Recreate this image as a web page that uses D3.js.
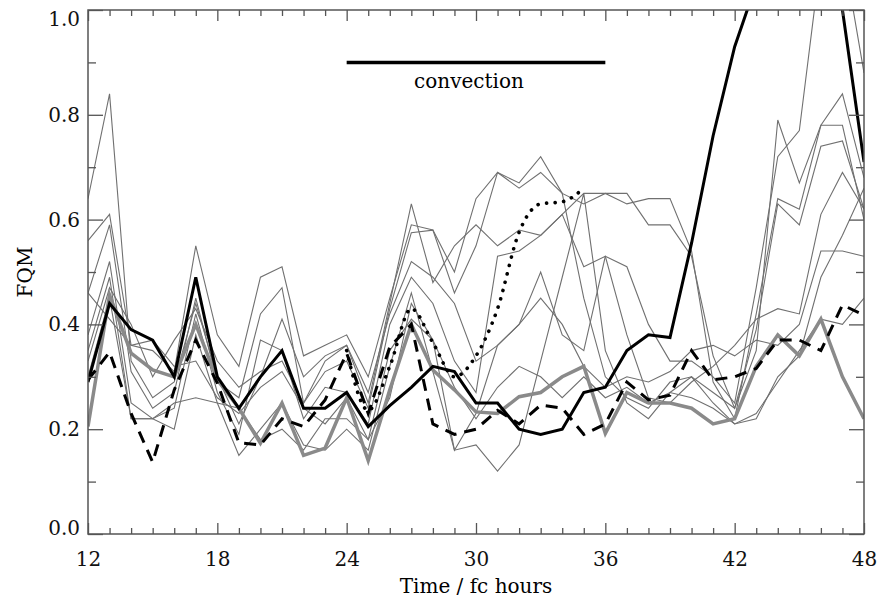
<!DOCTYPE html>
<html>
<head>
<meta charset="utf-8">
<script src="https://cdn.jsdelivr.net/npm/d3@7"></script>
<style>
  body { margin: 0; background: #fff; }
  text { font-family: "DejaVu Serif", serif; }
</style>
</head>
<body>
<div id="drawing"></div>
<script>
// forecast hours
var hours = [12,13,14,15,16,17,18,19,20,21,22,23,24,25,26,27,28,29,30,31,32,33,34,35,36,37,38,39,40,41,42,43,44,45,46,47,48];
var xMajor = [12,18,24,30,36,42,48];
var yMajor = [0.0,0.2,0.4,0.6,0.8,1.0];
var yMinor = [0.1,0.3,0.5,0.7,0.9];

// thin grey members
var member1 = [0.64,0.84,0.33,0.26,0.29,0.44,0.30,0.21,0.30,0.41,0.30,0.34,0.36,0.25,0.44,0.63,0.48,0.55,0.59,0.55,0.58,0.57,0.61,0.65,0.65,0.65,0.59,0.59,0.53,0.34,0.24,0.35,0.79,0.67,0.78,0.84,0.68];
var member2 = [0.56,0.61,0.36,0.35,0.31,0.55,0.38,0.32,0.49,0.51,0.34,0.36,0.38,0.30,0.45,0.59,0.58,0.50,0.64,0.69,0.67,0.72,0.65,0.63,0.65,0.63,0.64,0.64,0.54,0.29,0.22,0.42,0.64,0.62,0.78,0.78,0.60];
var member3 = [0.46,0.59,0.31,0.24,0.27,0.45,0.29,0.26,0.42,0.47,0.25,0.31,0.33,0.24,0.43,0.575,0.58,0.46,0.55,0.69,0.66,0.69,0.65,0.45,0.30,0.26,0.24,0.29,0.30,0.27,0.24,0.39,0.63,0.59,0.74,0.75,0.62];
var member4 = [0.38,0.52,0.25,0.22,0.24,0.42,0.27,0.19,0.37,0.35,0.22,0.28,0.27,0.21,0.40,0.49,0.44,0.33,0.27,0.53,0.54,0.57,0.61,0.51,0.53,0.38,0.26,0.25,0.29,0.32,0.36,0.41,0.43,0.42,0.61,0.69,0.62];
var member5 = [0.35,0.49,0.22,0.22,0.20,0.38,0.25,0.15,0.20,0.25,0.17,0.16,0.20,0.16,0.32,0.46,0.31,0.16,0.17,0.12,0.17,0.33,0.49,0.65,0.35,0.25,0.22,0.27,0.30,0.25,0.21,0.22,0.30,0.34,0.49,0.57,0.66];
var member6 = [0.33,0.47,0.40,0.30,0.37,0.43,0.33,0.28,0.31,0.33,0.25,0.33,0.36,0.27,0.42,0.52,0.49,0.44,0.33,0.36,0.40,0.50,0.38,0.35,0.53,0.51,0.40,0.33,0.33,0.30,0.25,0.47,0.72,0.77,1.10,1.12,0.88];
var member7 = [0.46,0.41,0.36,0.37,0.32,0.33,0.26,0.23,0.28,0.31,0.24,0.21,0.26,0.18,0.35,0.41,0.37,0.16,0.23,0.36,0.40,0.45,0.40,0.32,0.28,0.30,0.29,0.31,0.35,0.36,0.34,0.37,0.36,0.40,0.54,0.54,0.53];
var member8 = [0.30,0.45,0.22,0.22,0.25,0.26,0.25,0.24,0.18,0.20,0.16,0.22,0.22,0.18,0.26,0.44,0.37,0.28,0.22,0.28,0.32,0.30,0.26,0.30,0.26,0.28,0.25,0.27,0.26,0.24,0.21,0.23,0.29,0.35,0.41,0.40,0.45];

// highlighted runs
var thickGrey  = [0.205,0.456,0.345,0.313,0.30,0.40,0.294,0.24,0.173,0.25,0.15,0.164,0.26,0.14,0.275,0.40,0.313,0.275,0.233,0.23,0.262,0.27,0.30,0.32,0.192,0.27,0.25,0.25,0.24,0.21,0.22,0.32,0.38,0.34,0.41,0.30,0.22];
var dashedRun  = [0.294,0.347,0.23,0.137,0.275,0.37,0.288,0.174,0.17,0.22,0.205,0.256,0.345,0.23,0.357,0.40,0.21,0.19,0.20,0.236,0.21,0.246,0.24,0.19,0.21,0.29,0.256,0.265,0.35,0.294,0.30,0.316,0.37,0.37,0.35,0.437,0.418];
var blackRun   = [0.29,0.44,0.39,0.37,0.30,0.49,0.30,0.24,0.30,0.35,0.24,0.24,0.27,0.205,0.245,0.28,0.32,0.31,0.25,0.25,0.20,0.19,0.20,0.27,0.28,0.35,0.38,0.375,0.555,0.76,0.93,1.05,1.2,1.3,1.2,1.0,0.71];
var dottedHours = [24,25,26,27,28,29,30,31,32,33,34,35];
var dottedRun   = [0.35,0.236,0.32,0.43,0.365,0.30,0.34,0.43,0.576,0.63,0.634,0.66];

// convection period
var convection = [24, 36];
var convectionLevel = 0.9;

var width = 878;
var height = 599;
var margin = {top: 10, right: 14, bottom: 65, left: 88};
var plotW = width - margin.left - margin.right;
var plotH = height - margin.top - margin.bottom;
var axisColor = "#555";

var drawing = d3.select("#drawing").append("svg")
  .attr("width", width)
  .attr("height", height)
  .style("background", "#fff");

var area = drawing.append("g")
  .attr("transform", `translate(${margin.left}, ${margin.top})`);

var xScale = d3.scaleLinear().domain([12, 48]).range([0, plotW]);
var yScale = d3.scaleLinear().domain([0, 1]).range([plotH, 0]);

area.append("clipPath").attr("id", "clip")
  .append("rect").attr("width", plotW).attr("height", plotH);

var lines = area.append("g").attr("clip-path", "url(#clip)");

var line = d3.line()
  .x((d) => xScale(d[0]))
  .y((d) => yScale(d[1]));

function pairs(xs, ys) { return xs.map((x, i) => [x, ys[i]]); }

var members = [member1, member2, member3, member4, member5, member6, member7, member8];
lines.selectAll(".member")
  .data(members)
  .enter().append("path")
    .attr("class", "member")
    .attr("d", (d) => line(pairs(hours, d)))
    .style("fill", "none")
    .style("stroke", "#707070")
    .style("stroke-width", 1.1);

lines.append("path")
  .attr("d", line(pairs(hours, thickGrey)))
  .style("fill", "none").style("stroke", "#8a8a8a").style("stroke-width", 3.5);

lines.append("path")
  .attr("d", line(pairs(hours, dashedRun)))
  .style("fill", "none").style("stroke", "#000").style("stroke-width", 3)
  .style("stroke-dasharray", "12,8");

// dotted run, smoothed a little like the original
var smoothLine = d3.line()
  .x((d) => xScale(d[0]))
  .y((d) => yScale(d[1]))
  .curve(d3.curveMonotoneX);
lines.append("path")
  .attr("d", smoothLine(pairs(dottedHours, dottedRun)))
  .style("fill", "none").style("stroke", "#000").style("stroke-width", 3.6)
  .style("stroke-linecap", "round")
  .style("stroke-dasharray", "0.1,8.5");

lines.append("path")
  .attr("d", line(pairs(hours, blackRun)))
  .style("fill", "none").style("stroke", "#000").style("stroke-width", 3);

// convection bar
area.append("line")
  .attr("x1", xScale(convection[0])).attr("x2", xScale(convection[1]))
  .attr("y1", yScale(convectionLevel)).attr("y2", yScale(convectionLevel))
  .style("stroke", "#000").style("stroke-width", 3.5);
area.append("text")
  .attr("x", xScale(d3.mean(convection)) - 7)
  .attr("y", yScale(convectionLevel) + 26)
  .attr("text-anchor", "middle")
  .style("font-size", "20px")
  .text("convection");

// axes, ticks pointing inward on all four sides
function styleAxis(g) {
  g.select(".domain").remove();
  g.selectAll("line").style("stroke", axisColor).style("stroke-width", 1.3);
  g.selectAll("text").style("font-family", "DejaVu Serif").style("font-size", "20px").style("fill", "#111");
}
var xMinor = hours.filter((h) => xMajor.indexOf(h) < 0);

area.append("g").attr("transform", `translate(0, ${plotH})`)
  .call(d3.axisBottom(xScale).tickValues(xMajor).tickSize(-11).tickPadding(18).tickFormat(d3.format("d"))).call(styleAxis);
area.append("g").attr("transform", `translate(0, ${plotH})`)
  .call(d3.axisBottom(xScale).tickValues(xMinor).tickSize(-6).tickFormat("")).call(styleAxis);
area.append("g")
  .call(d3.axisTop(xScale).tickValues(xMajor).tickSize(-11).tickFormat("")).call(styleAxis);
area.append("g")
  .call(d3.axisTop(xScale).tickValues(xMinor).tickSize(-6).tickFormat("")).call(styleAxis);

var yAxisLeft = area.append("g")
  .call(d3.axisLeft(yScale).tickValues(yMajor).tickSize(-15).tickPadding(8).tickFormat(d3.format(".1f"))).call(styleAxis);
// keep the end labels inside the frame height, as in the original
yAxisLeft.selectAll(".tick text")
  .attr("dy", (d) => d === 1 ? "0.75em" : (d === 0 ? "0em" : "0.32em"));
area.append("g")
  .call(d3.axisLeft(yScale).tickValues(yMinor).tickSize(-8).tickFormat("")).call(styleAxis);
area.append("g").attr("transform", `translate(${plotW}, 0)`)
  .call(d3.axisRight(yScale).tickValues(yMajor).tickSize(-15).tickFormat("")).call(styleAxis);
area.append("g").attr("transform", `translate(${plotW}, 0)`)
  .call(d3.axisRight(yScale).tickValues(yMinor).tickSize(-8).tickFormat("")).call(styleAxis);

area.append("rect")
  .attr("width", plotW).attr("height", plotH)
  .style("fill", "none").style("stroke", axisColor).style("stroke-width", 1.5);

// axis titles
area.append("text")
  .attr("x", plotW / 2).attr("y", plotH + 59)
  .attr("text-anchor", "middle")
  .style("font-size", "20px")
  .text("Time / fc hours");
area.append("text")
  .attr("transform", `translate(${32 - margin.left}, ${plotH / 2}) rotate(-90)`)
  .attr("text-anchor", "middle")
  .style("font-size", "20px")
  .text("FQM");
</script>
</body>
</html>
